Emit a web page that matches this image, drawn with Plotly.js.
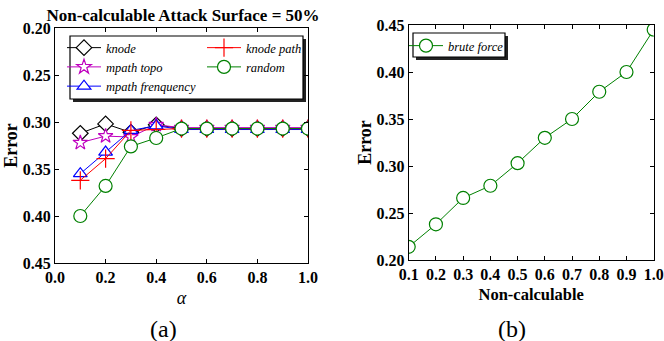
<!DOCTYPE html>
<html>
<head>
<meta charset="utf-8">
<script src="https://cdn.plot.ly/plotly-3.0.1.min.js"></script>
<style>html,body{margin:0;padding:0;background:#fff;}#chart{width:664px;height:341px;}</style>
</head>
<body>
<div id="chart"></div>
<script>
// ---- data ----
const alpha = [0.1, 0.2, 0.3, 0.4, 0.5, 0.6, 0.7, 0.8, 0.9, 1.0];
const knode = [0.312, 0.302, 0.311, 0.303, 0.307, 0.307, 0.307, 0.307, 0.307, 0.307];
const mpathTopo = [0.322, 0.315, 0.316, 0.303, 0.306, 0.306, 0.306, 0.306, 0.306, 0.306];
const mpathFreq = [0.355, 0.332, 0.309, 0.304, 0.308, 0.308, 0.308, 0.308, 0.308, 0.308];
const knodePath = [0.362, 0.339, 0.309, 0.308, 0.307, 0.307, 0.307, 0.307, 0.307, 0.307];
const randomSel = [0.400, 0.368, 0.326, 0.317, 0.307, 0.307, 0.307, 0.307, 0.307, 0.307];

const nonCalc = [0.1, 0.2, 0.3, 0.4, 0.5, 0.6, 0.7, 0.8, 0.9, 1.0];
const bruteForce = [0.214, 0.238, 0.266, 0.279, 0.303, 0.330, 0.350, 0.379, 0.400, 0.445];

const yTicks = [0.20, 0.25, 0.30, 0.35, 0.40, 0.45];
const xTicksA = [0.0, 0.2, 0.4, 0.6, 0.8, 1.0];
const xTicksB = [0.1, 0.2, 0.3, 0.4, 0.5, 0.6, 0.7, 0.8, 0.9, 1.0];

// ---- styles ----
const SERIF = 'Liberation Serif, DejaVu Serif, serif';
const tickFont = {family: SERIF, size: 16, color: '#000', weight: 'bold'};
const legFont = {family: SERIF, size: 12.5, color: '#000', style: 'italic'};
function mk(symbol, color, size) {
  return {symbol: symbol, size: size, color: '#fff', line: {color: color, width: 1.2}};
}
const traces = [
  {x: alpha, y: knode, name: 'knode', legend: 'legend',
   mode: 'lines+markers', line: {color: '#000', width: 1}, marker: mk('diamond', '#000', 12)},
  {x: alpha, y: mpathTopo, name: 'mpath topo', legend: 'legend',
   mode: 'lines+markers', line: {color: '#bf00bf', width: 1}, marker: mk('star', '#bf00bf', 11)},
  {x: alpha, y: mpathFreq, name: 'mpath frenquency', legend: 'legend',
   mode: 'lines+markers', line: {color: '#0000ff', width: 1}, marker: mk('triangle-up', '#0000ff', 12)},
  {x: alpha, y: knodePath, name: 'knode path', legend: 'legend3',
   mode: 'lines+markers', line: {color: '#ff0000', width: 1},
   marker: {symbol: 'cross-thin', size: 13, color: '#ff0000', line: {color: '#ff0000', width: 1.2}}},
  {x: alpha, y: randomSel, name: 'random', legend: 'legend3',
   mode: 'lines+markers', line: {color: '#008000', width: 1}, marker: mk('circle', '#008000', 13)},
  {x: nonCalc, y: bruteForce, name: 'brute force', legend: 'legend2', xaxis: 'x2', yaxis: 'y2',
   mode: 'lines+markers', line: {color: '#008000', width: 1}, marker: mk('circle', '#008000', 13)}
];

const W = 664, H = 341;
const px = v => v / W, py = v => 1 - v / H;

function axisBase() {
  return {showline: true, linecolor: '#000', linewidth: 1, mirror: 'ticks',
          ticks: 'inside', ticklen: 4, tickcolor: '#000', showgrid: false, zeroline: false,
          tickfont: tickFont, automargin: false, fixedrange: true, ticklabeloverflow: 'allow'};
}
function frame(x0, y0, x1, y1) {
  return [
    {type: 'rect', xref: 'paper', yref: 'paper', x0: px(x0 + 3), x1: px(x1 + 3), y0: py(y1 + 3), y1: py(y0 + 3),
     fillcolor: '#222', line: {width: 0}, layer: 'below'},
    {type: 'rect', xref: 'paper', yref: 'paper', x0: px(x0), x1: px(x1), y0: py(y1), y1: py(y0),
     fillcolor: '#fff', line: {color: '#000', width: 1.2}, layer: 'below'}
  ];
}
const legBase = {xanchor: 'left', yanchor: 'top', orientation: 'v', itemwidth: 34,
                 bgcolor: 'rgba(0,0,0,0)', borderwidth: 0, font: legFont, tracegroupgap: 0};

const layout = {
  width: W, height: H,
  margin: {l: 0, r: 0, t: 0, b: 0},
  paper_bgcolor: '#fff', plot_bgcolor: 'rgba(0,0,0,0)',
  showlegend: true,
  title: {text: 'Non-calculable Attack Surface = 50%', x: px(183), xanchor: 'center',
          y: py(15.5), yanchor: 'middle',
          font: {family: SERIF, size: 17, color: '#000', weight: 'bold'}},
  xaxis: Object.assign(axisBase(), {domain: [px(55), px(308)], range: [0, 1.0],
          tickvals: xTicksA, ticktext: xTicksA.map(v => v.toFixed(1)),
          title: {text: 'α', font: {family: SERIF, size: 18, color: '#000', style: 'italic'}, standoff: 6}, anchor: 'y'}),
  yaxis: Object.assign(axisBase(), {domain: [py(263), py(28)], range: [0.45, 0.20],
          tickvals: yTicks, ticktext: yTicks.map(v => v.toFixed(2)),
          title: {text: 'Error', font: {family: SERIF, size: 18, color: '#000', weight: 'bold'}, standoff: 0}, anchor: 'x'}),
  xaxis2: Object.assign(axisBase(), {domain: [px(408.7), px(653.7)], range: [0.1, 1.0],
          tickvals: xTicksB, ticktext: xTicksB.map(v => v.toFixed(1)),
          title: {text: 'Non-calculable', font: {family: SERIF, size: 16.5, color: '#000', weight: 'bold'}, standoff: 6}, anchor: 'y2'}),
  yaxis2: Object.assign(axisBase(), {domain: [py(260), py(25)], range: [0.20, 0.45],
          tickvals: yTicks, ticktext: yTicks.map(v => v.toFixed(2)),
          title: {text: 'Error', font: {family: SERIF, size: 18, color: '#000', weight: 'bold'}, standoff: 0}, anchor: 'x2'}),
  legend: Object.assign({}, legBase, {x: px(62), y: py(33)}),
  legend3: Object.assign({}, legBase, {x: px(202), y: py(33)}),
  legend2: Object.assign({}, legBase, {x: px(404), y: py(31)}),
  shapes: [].concat(frame(70, 36, 303, 99), frame(413, 33, 505, 57)),
  annotations: [
    {text: '(a)', xref: 'paper', yref: 'paper', x: px(163), y: py(329), xanchor: 'center', yanchor: 'middle',
     showarrow: false, font: {family: SERIF, size: 24, color: '#000'}},
    {text: '(b)', xref: 'paper', yref: 'paper', x: px(512), y: py(329), xanchor: 'center', yanchor: 'middle',
     showarrow: false, font: {family: SERIF, size: 24, color: '#000'}}
  ]
};

Plotly.newPlot('chart', traces, layout, {staticPlot: true, displayModeBar: false});
</script>
</body>
</html>
